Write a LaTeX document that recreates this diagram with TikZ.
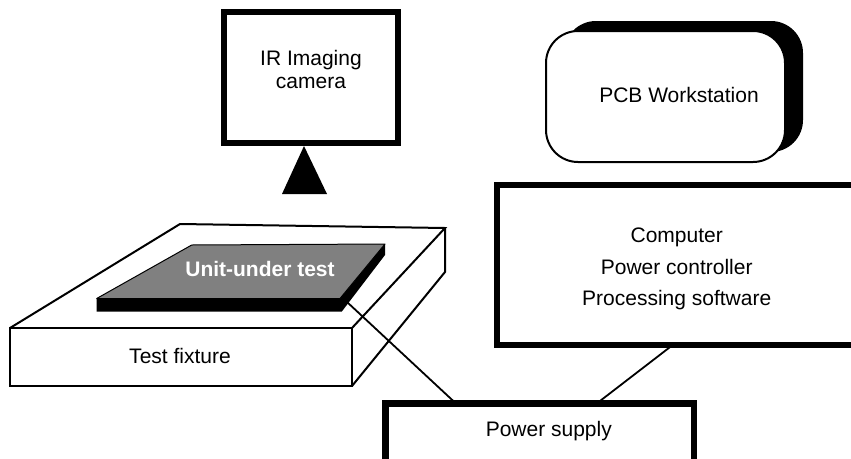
\documentclass[tikz,border=0pt]{standalone}
\usepackage{fontspec}
\setmainfont{Liberation Sans}
\definecolor{slabgray}{RGB}{128,128,128}
\begin{document}
\begin{tikzpicture}[x=1pt,y=-1pt,
  txt/.style={font=\fontsize{21}{23}\selectfont, inner sep=0pt, anchor=base},
  boldtxt/.style={font=\fontsize{21}{23}\selectfont\bfseries, inner sep=0pt, anchor=base, text=white},
  thickbox/.style={draw=black, line width=6.3pt, fill=white, inner sep=0pt, outer sep=0pt},
  pcbbox/.style={draw=black, line width=2pt, fill=white, rounded corners=32pt, inner sep=0pt, outer sep=0pt, minimum width=239pt, minimum height=131pt},
  pcbshade/.style={fill=black, rounded corners=32pt, inner sep=0pt, outer sep=0pt, minimum width=239pt, minimum height=131pt},
  fixline/.style={line width=2pt, line join=miter},
  wire/.style={line width=1.8pt}
]
\useasboundingbox (0,0) rectangle (851,458);
\clip (0,0) rectangle (851,458);

% IR camera
\node[thickbox, minimum width=174pt, minimum height=131pt] (cam) at (311,77.5) {};
\node[txt] (camt1) at (311,65.7) {IR Imaging};
\node[txt] (camt2) at (311,88.3) {camera};
\fill[black] (282,194) -- (327,194) -- (304,146) -- cycle;

% PCB workstation
\node[pcbshade] (pcbshadow) at (683.5,86.5) {};
\node[pcbbox] (pcb) at (665.5,96.5) {};
\node[txt] (pcbt) at (679,102.3) {PCB Workstation};

% Test fixture
\draw[fixline] (10,328) rectangle (352,386);
\draw[fixline] (10,328) -- (180,224) -- (445,228) -- (352,328);
\draw[fixline] (445,228) -- (445,272) -- (352,386);
\node[txt] (fixt) at (180,363.5) {Test fixture};

% Unit under test
\fill[black] (96.7,298.5) -- (340,298.5) -- (385,244) -- (385,255) -- (341.7,311.7) -- (96.7,311.7) -- cycle;
\filldraw[fill=slabgray, draw=black, line width=1pt, line join=round] (96.7,298.5) -- (191.7,245) -- (385,244) -- (340,298.5) -- cycle;
\node[boldtxt] (uutt) at (260,276) {Unit-under test};
\coordinate (uutc) at (347,302);

% Computer
\node[thickbox, minimum width=402.7pt, minimum height=160pt] (comp) at (698.65,265) {};
\node[txt] (compt1) at (676.7,242.5) {Computer};
\node[txt] (compt2) at (676.7,274) {Power controller};
\node[txt] (compt3) at (676.7,305.5) {Processing software};

% Power supply
\node[thickbox, minimum width=308.7pt, minimum height=76.5pt] (psu) at (539.85,441.75) {};
\node[txt] (psut) at (548.8,436) {Power supply};

% Connectors
\draw[wire] (uutc) -- ([xshift=70.5pt]psu.north west);
\draw[wire] ([xshift=175.4pt]comp.south west) -- ([xshift=211.2pt]psu.north west);
\end{tikzpicture}
\end{document}
